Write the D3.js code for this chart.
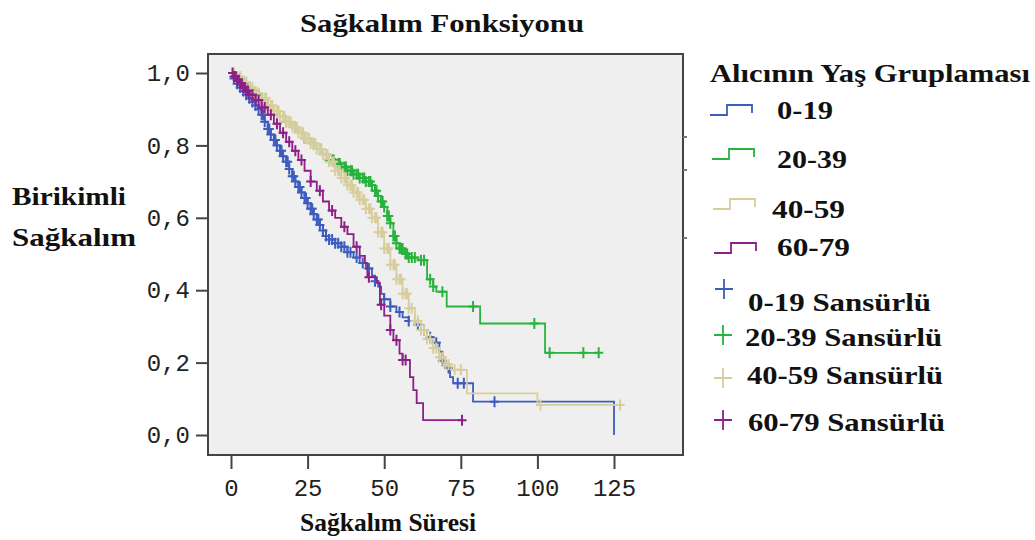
<!DOCTYPE html>
<html>
<head>
<meta charset="utf-8">
<script src="https://cdn.jsdelivr.net/npm/d3@7"></script>
<style>
  html, body { margin: 0; padding: 0; background: #fff; }
  svg { display: block; }
  .serif { font-family: "Liberation Serif", "Times New Roman", serif; font-weight: bold; fill: #111; }
  .mono  { font-family: "Liberation Mono", "Courier New", monospace; fill: #222; }
</style>
</head>
<body>
<div id="chart"></div>
<script>
// --- data ------------------------------------------------------------------
const groups = ["0-19", "20-39", "40-59", "60-79"];
const groupColors = ["#3c5cbf", "#27b33c", "#d8cd9d", "#8c2088"];

const xTicks = [0, 25, 50, 75, 100, 125];
const yTicks = [0, 0.2, 0.4, 0.6, 0.8, 1.0];

// [time, survival after the drop]
const steps0to19 = [[0,1],[1,0.985],[2,0.97],[3,0.96],[4,0.95],[5,0.94],[6,0.93],[7,0.92],[8,0.91],
  [9,0.9],[10,0.885],[11,0.865],[12,0.845],[13,0.83],[14,0.815],[15,0.8],[16,0.785],[17,0.77],
  [18,0.755],[19,0.735],[20,0.715],[21,0.7],[22,0.685],[23,0.67],[24,0.655],[25,0.64],[26,0.625],
  [27,0.61],[28,0.595],[29,0.58],[30,0.565],[31,0.55],[32,0.54],[34,0.53],[36,0.52],[38,0.505],
  [40,0.49],[42,0.475],[44,0.46],[46,0.44],[47,0.425],[48,0.41],[49,0.39],[50,0.375],[52,0.355],
  [54,0.34],[56,0.325],[58,0.315],[60,0.305],[62,0.29],[64,0.27],[66,0.255],[68,0.23],[69,0.205],
  [70,0.185],[71.5,0.16],[72.5,0.143],[79,0.092],[125,0]];
const steps20to39 = [[0,1],[2,0.985],[4,0.97],[6,0.955],[8,0.94],[10,0.925],[12,0.91],[14,0.895],
  [16,0.88],[18,0.865],[20,0.85],[22,0.835],[24,0.82],[26,0.805],[28,0.79],[30,0.775],[32,0.76],
  [34,0.75],[36,0.74],[38,0.73],[40,0.72],[42,0.71],[44,0.7],[46,0.69],[47,0.675],[48,0.66],
  [49,0.645],[50,0.63],[51,0.605],[52,0.585],[53,0.55],[54,0.53],[55,0.515],[56.5,0.5],[58,0.49],
  [61,0.483],[64,0.43],[66,0.41],[67,0.396],[70.4,0.355],[81.3,0.308],[102.5,0.227]];
const steps40to59 = [[0,1],[2,0.99],[4,0.975],[6,0.96],[8,0.945],[10,0.93],[12,0.91],[14,0.895],
  [16,0.88],[18,0.865],[20,0.85],[22,0.835],[24,0.82],[26,0.805],[28,0.79],[30,0.775],[32,0.755],
  [34,0.73],[36,0.71],[38,0.69],[40,0.67],[42,0.65],[44,0.625],[46,0.6],[48,0.56],[50,0.515],
  [52,0.47],[54,0.43],[56,0.39],[58,0.35],[60,0.315],[62,0.29],[64,0.265],[66,0.24],[68,0.215],
  [70,0.195],[72,0.18],[77,0.115],[100,0.083]];
const steps60to79 = [[0,1],[1,0.99],[2,0.98],[3,0.97],[4,0.96],[5,0.95],[6,0.94],[8,0.925],
  [10,0.905],[12,0.885],[14,0.86],[16,0.835],[18,0.81],[20,0.785],[22,0.76],[24,0.73],[26,0.7],
  [28,0.675],[30,0.645],[32,0.62],[34,0.6],[36,0.575],[38,0.555],[40,0.52],[42,0.495],[43.7,0.475],
  [44.5,0.436],[47.6,0.42],[48.6,0.36],[50,0.33],[52,0.29],[53,0.262],[55,0.225],[56,0.207],
  [58.4,0.16],[59.5,0.124],[60.6,0.088],[62.7,0.041]];

// censored times
const cens0to19 = [1,2,3,4,5,6,7,8,9,10,10.5,11,12,12.5,13,14,14.5,15,16,16.5,17,18,18.5,19,20,
  20.5,21,22,22.5,23,24,24.5,25,26,26.5,27,28,28.5,29,30,31,32,33,34,35,36,37,38,39,41,43,45,47,
  50,52,55,58,61,63,65,67,69,71,74,76,86];
const cens20to39 = [3,6,9,12,15,18,21,24,27,29,31,32,33,33.5,34,35,35.5,36,37,37.5,38,39,39.5,40,
  41,41.5,42,43,43.5,44,45,45.5,46,47,47.5,48,49,49.5,50,51,51.5,52,53,53.5,54,55,55.5,56,57,57.5,
  58,59,60,62,63,65,66,69,79,99,104,115,120];
const cens40to59 = [1,2,3,4,5,6,7,8,9,10,11,11.5,12,13,13.5,14,15,15.5,16,17,17.5,18,19,19.5,20,
  21,21.5,22,23,23.5,24,25,25.5,26,27,27.5,28,29,29.5,30,31,31.5,32,33,33.5,34,35,35.5,36,37,37.5,
  38,39,39.5,40,41,41.5,42,43,43.5,44,45,45.5,46,47,47.5,48,49,49.5,50,51,51.5,52,53,53.5,54,55,
  55.5,56,57,57.5,58,59,60,61,62,63,64,65,66,67,68,69,70,71,73,75,101,127];
const cens60to79 = [0.5,1,1.5,2,2.5,3,3.5,4,4.5,5,5.5,6,7,8,9,10,11,13,15,17,19,21,23,26,29,33,37,
  41,45,49,52,54,56,57,75.4];

const allSteps = [steps0to19, steps20to39, steps40to59, steps60to79];
const allCens = [cens0to19, cens20to39, cens40to59, cens60to79];

// --- canvas ----------------------------------------------------------------
const W = 1035, H = 540;
const frame = { left: 208, top: 54, right: 683, bottom: 455 };

const svg = d3.select("#chart").append("svg")
    .attr("width", W).attr("height", H)
    .attr("viewBox", `0 0 ${W} ${H}`);

const x = d3.scaleLinear().domain([0, 125]).range([231, 614]);
const y = d3.scaleLinear().domain([0, 1]).range([435, 73]);

svg.append("rect")
    .attr("x", frame.left).attr("y", frame.top)
    .attr("width", frame.right - frame.left).attr("height", frame.bottom - frame.top)
    .attr("fill", "#efefef").attr("stroke", "#444").attr("stroke-width", 2);
// small stray marks on the right edge of the frame
svg.append("g").selectAll("line").data([137, 170, 238]).join("line")
    .attr("x1", frame.right).attr("x2", frame.right + 4)
    .attr("y1", d => d).attr("y2", d => d)
    .attr("stroke", "#777").attr("stroke-width", 2);

// axes
const yAxis = d3.axisLeft(y).tickValues(yTicks).tickSize(11).tickPadding(6)
    .tickFormat(d => d3.format(".1f")(d).replace(".", ","));
const gy = svg.append("g").attr("transform", `translate(${frame.left - 1},0)`).call(yAxis);
const xAxis = d3.axisBottom(x).tickValues(xTicks).tickSize(13).tickPadding(10);
const gx = svg.append("g").attr("transform", `translate(0,${frame.bottom + 1})`).call(xAxis);
for (const g of [gx, gy]) {
    g.select(".domain").remove();
    g.selectAll(".tick line").attr("stroke", "#444").attr("stroke-width", 2);
    g.selectAll(".tick text").attr("class", "mono").style("font-size", "24px");
}

// survival curves
function survAt(steps, t) {
    let s = 1;
    for (const [tt, v] of steps) { if (tt <= t) s = v; else break; }
    return s;
}
function stepPath(steps, endT) {
    const pts = [];
    let prev = 1;
    for (const [t, s] of steps) { pts.push([t, prev]); pts.push([t, s]); prev = s; }
    if (endT > steps[steps.length - 1][0]) pts.push([endT, prev]);
    return d3.line().x(d => x(d[0])).y(d => y(d[1]))(pts);
}

allSteps.forEach((steps, i) => {
    const cens = allCens[i];
    const endT = Math.max(steps[steps.length - 1][0], d3.max(cens));
    const g = svg.append("g").attr("stroke", groupColors[i]).attr("fill", "none");
    g.append("path").attr("d", stepPath(steps, endT)).attr("stroke-width", 1.8);
    g.selectAll("path.c").data(cens).join("path").attr("class", "c")
        .attr("stroke-width", 2)
        .attr("d", t => {
            const cx = x(t), cy = y(survAt(steps, t));
            return `M${cx - 4.5},${cy}H${cx + 4.5}M${cx},${cy - 5.5}V${cy + 5.5}`;
        });
});

// titles
svg.append("text").attr("class", "serif").attr("x", 442).attr("y", 32)
    .attr("text-anchor", "middle").style("font-size", "26px")
    .attr("textLength", 284).attr("lengthAdjust", "spacingAndGlyphs")
    .text("Sağkalım Fonksiyonu");
svg.append("text").attr("class", "serif").attr("x", 388).attr("y", 531)
    .attr("text-anchor", "middle").style("font-size", "26px")
    .attr("textLength", 176).attr("lengthAdjust", "spacingAndGlyphs")
    .text("Sağkalım Süresi");
svg.append("text").attr("class", "serif").attr("x", 12).attr("y", 205)
    .style("font-size", "25px").attr("textLength", 114).attr("lengthAdjust", "spacingAndGlyphs")
    .text("Birikimli");
svg.append("text").attr("class", "serif").attr("x", 12).attr("y", 246)
    .style("font-size", "25px").attr("textLength", 124).attr("lengthAdjust", "spacingAndGlyphs")
    .text("Sağkalım");

// legend
const legend = svg.append("g");
legend.append("text").attr("class", "serif").attr("x", 710).attr("y", 82)
    .style("font-size", "25px").attr("textLength", 320).attr("lengthAdjust", "spacingAndGlyphs")
    .text("Alıcının Yaş Gruplaması");

const lineRows = [
    { ix: 710, iy: 115, lx: 777, ly: 119, w: 56 },
    { ix: 712, iy: 159, lx: 777, ly: 168, w: 70 },
    { ix: 713, iy: 209, lx: 772, ly: 218, w: 73 },
    { ix: 714, iy: 253, lx: 777, ly: 256, w: 73 }
];
lineRows.forEach((r, i) => {
    legend.append("path")
        .attr("d", `M${r.ix},${r.iy}H${r.ix + 17}V${r.iy - 10}H${r.ix + 42}V${r.iy - 2}`)
        .attr("fill", "none").attr("stroke", groupColors[i]).attr("stroke-width", 1.8);
    legend.append("text").attr("class", "serif").attr("x", r.lx).attr("y", r.ly)
        .style("font-size", "26px").attr("textLength", r.w).attr("lengthAdjust", "spacingAndGlyphs")
        .text(groups[i]);
});
const censRows = [
    { px: 724, py: 289, lx: 748, ly: 311, w: 183 },
    { px: 723, py: 335, lx: 745, ly: 346, w: 197 },
    { px: 723, py: 378, lx: 747, ly: 384, w: 196 },
    { px: 723, py: 420, lx: 748, ly: 431, w: 197 }
];
censRows.forEach((r, i) => {
    legend.append("path")
        .attr("d", `M${r.px - 9},${r.py}H${r.px + 9}M${r.px},${r.py - 10}V${r.py + 10}`)
        .attr("stroke", groupColors[i]).attr("stroke-width", 1.8);
    legend.append("text").attr("class", "serif").attr("x", r.lx).attr("y", r.ly)
        .style("font-size", "26px").attr("textLength", r.w).attr("lengthAdjust", "spacingAndGlyphs")
        .text(groups[i] + " Sansürlü");
});
</script>
</body>
</html>
